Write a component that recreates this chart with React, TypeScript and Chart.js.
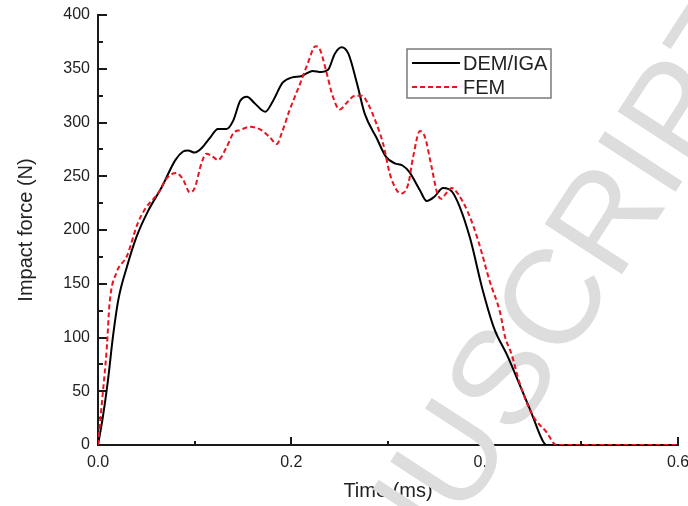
import React, { useEffect, useRef } from 'react';
import { Chart, registerables } from 'chart.js';

Chart.register(...registerables);

const demTime = [0, 0.005, 0.01, 0.0155, 0.021, 0.03, 0.04, 0.052, 0.066, 0.08, 0.088, 0.093, 0.1, 0.107, 0.116, 0.124, 0.133, 0.14, 0.147, 0.154, 0.162, 0.173, 0.181, 0.191, 0.201, 0.21, 0.222, 0.231, 0.238, 0.245, 0.252, 0.259, 0.268, 0.276, 0.288, 0.298, 0.307, 0.315, 0.322, 0.333, 0.34, 0.348, 0.357, 0.366, 0.374, 0.385, 0.398, 0.41, 0.423, 0.433, 0.447, 0.46, 0.464, 0.6];
const demForce = [0, 26, 58, 101, 135, 166, 194, 218, 240, 265, 273, 274, 272, 276, 286, 294, 294, 302, 320, 324, 318, 310, 320, 337, 342, 343, 348, 347, 349, 364, 370, 364, 336, 308, 286, 268, 262, 260, 254, 237, 227, 231, 239, 236, 222, 192, 144, 108, 84, 63, 33, 4, 0, 0];

const femTime = [0, 0.004, 0.009, 0.012, 0.019, 0.03, 0.041, 0.049, 0.062, 0.072, 0.081, 0.088, 0.095, 0.1, 0.107, 0.112, 0.119, 0.124, 0.133, 0.14, 0.147, 0.157, 0.169, 0.178, 0.185, 0.19, 0.198, 0.209, 0.217, 0.225, 0.229, 0.236, 0.243, 0.25, 0.257, 0.266, 0.273, 0.279, 0.288, 0.295, 0.302, 0.309, 0.314, 0.321, 0.326, 0.333, 0.338, 0.345, 0.351, 0.355, 0.36, 0.366, 0.372, 0.383, 0.393, 0.405, 0.416, 0.421, 0.428, 0.436, 0.45, 0.464, 0.474, 0.6];
const femForce = [0, 39, 89, 132, 160, 176, 206, 220, 234, 249, 253, 247, 235, 239, 262, 271, 268, 265, 277, 290, 293, 296, 293, 286, 280, 290, 311, 336, 355, 371, 369, 348, 324, 312, 318, 325, 325, 318, 299, 280, 252, 237, 234, 243, 268, 292, 287, 259, 234, 229, 234, 239, 234, 216, 191, 153, 123, 101, 84, 58, 27, 12, 0, 0];

const seriesLabels = ['DEM/IGA', 'FEM'];
const seriesColors = ['#000000', '#e8141e'];
const xTitle = 'Time (ms)';
const yTitle = 'Impact force (N)';
const watermarkText = 'ACCEPTED MANUSCRIPT';

const FONT = '"Liberation Sans", Arial, Helvetica, sans-serif';
const AXIS_COLOR = '#1a1a1a';
const TEXT_COLOR = '#222222';

const innerTicks = {
  id: 'innerTicks',
  beforeDatasetsDraw(chart: any) {
    const ctx = chart.ctx;
    const xs = chart.scales.x;
    const ys = chart.scales.y;
    const area = chart.chartArea;
    ctx.save();
    ctx.strokeStyle = AXIS_COLOR;
    ctx.lineWidth = 2;
    ctx.beginPath();
    xs.ticks.forEach((t: any) => {
      const px = Math.round(xs.getPixelForValue(t.value));
      const major = Math.round(t.value * 10) % 2 === 0;
      const len = major ? 8 : 4;
      ctx.moveTo(px, area.bottom);
      ctx.lineTo(px, area.bottom - len);
    });
    ys.ticks.forEach((t: any) => {
      const py = Math.round(ys.getPixelForValue(t.value));
      const major = Math.round(t.value) % 50 === 0;
      const len = major ? 9 : 5;
      ctx.moveTo(area.left, py);
      ctx.lineTo(area.left + len, py);
    });
    ctx.stroke();
    ctx.restore();
  },
};

const watermark = {
  id: 'watermark',
  beforeDatasetsDraw(chart: any) {
    const ctx = chart.ctx;
    ctx.save();
    ctx.font = `134px ${FONT}`;
    ctx.fillStyle = '#dddddd';
    ctx.textBaseline = 'middle';
    ctx.textAlign = 'left';
    const pre = ctx.measureText('ACCEPTED MANU').width;
    const sW = ctx.measureText('S').width;
    ctx.translate(508, 382);
    ctx.rotate((-57 * Math.PI) / 180);
    ctx.fillText(watermarkText, -(pre + sW / 2), 0);
    ctx.restore();
  },
};

const boxLegend = {
  id: 'boxLegend',
  afterDraw(chart: any) {
    const ctx = chart.ctx;
    const left = 407;
    const top = 49;
    const w = 144;
    const h = 49;
    ctx.save();
    ctx.strokeStyle = '#7a7a7a';
    ctx.lineWidth = 1.5;
    ctx.strokeRect(left, top, w, h);
    const rows = [63, 87];
    chart.data.datasets.forEach((ds: any, i: number) => {
      const y = rows[i];
      ctx.beginPath();
      ctx.strokeStyle = ds.borderColor;
      ctx.lineWidth = 2;
      ctx.setLineDash(ds.borderDash || []);
      ctx.moveTo(412, y);
      ctx.lineTo(460, y);
      ctx.stroke();
      ctx.setLineDash([]);
      ctx.fillStyle = TEXT_COLOR;
      ctx.font = `20px ${FONT}`;
      ctx.textBaseline = 'middle';
      ctx.textAlign = 'left';
      ctx.fillText(ds.label, 463, y + 1);
    });
    ctx.restore();
  },
};

export default function App() {
  const ref = useRef<HTMLCanvasElement>(null);
  useEffect(() => {
    document.body.style.margin = '0';
    const canvas = ref.current;
    if (!canvas) return;
    const chart = new Chart(canvas, {
      type: 'line',
      data: {
        datasets: [
          {
            label: seriesLabels[0],
            data: demTime.map((t, i) => ({ x: t, y: demForce[i] })),
            borderColor: seriesColors[0],
            borderWidth: 2,
            pointRadius: 0,
            cubicInterpolationMode: 'monotone',
            fill: false,
            order: 2,
          },
          {
            label: seriesLabels[1],
            data: femTime.map((t, i) => ({ x: t, y: femForce[i] })),
            borderColor: seriesColors[1],
            borderWidth: 2,
            borderDash: [5, 3],
            pointRadius: 0,
            cubicInterpolationMode: 'monotone',
            fill: false,
            order: 1,
          },
        ],
      },
      options: {
        responsive: false,
        animation: false,
        devicePixelRatio: 1,
        layout: { padding: { top: 15, right: 10, left: 0, bottom: 0 } },
        plugins: {
          legend: { display: false },
          tooltip: { enabled: false },
        },
        scales: {
          x: {
            type: 'linear',
            min: 0,
            max: 0.6,
            grid: { display: true, drawOnChartArea: false, drawTicks: false },
            border: { display: true, color: AXIS_COLOR, width: 2 },
            ticks: {
              stepSize: 0.1,
              padding: 8,
              maxRotation: 0,
              autoSkip: false,
              color: TEXT_COLOR,
              font: { family: FONT, size: 16 },
              callback: (v: any) => (Math.round(Number(v) * 10) % 2 === 0 ? Number(v).toFixed(1) : ''),
            },
            title: {
              display: true,
              text: xTitle,
              color: TEXT_COLOR,
              font: { family: FONT, size: 20 },
              padding: { top: 0, bottom: 3 },
            },
            afterFit: (s: any) => {
              s.height = 61;
              s.paddingLeft = 0;
              s.paddingRight = 0;
            },
          },
          y: {
            type: 'linear',
            min: 0,
            max: 400,
            grid: { display: true, drawOnChartArea: false, drawTicks: false },
            border: { display: true, color: AXIS_COLOR, width: 2 },
            ticks: {
              stepSize: 25,
              padding: 8,
              autoSkip: false,
              color: TEXT_COLOR,
              font: { family: FONT, size: 16 },
              callback: (v: any) => (Math.round(Number(v)) % 50 === 0 ? String(v) : ''),
            },
            title: {
              display: true,
              text: yTitle,
              color: TEXT_COLOR,
              font: { family: FONT, size: 20 },
              padding: { top: 14, bottom: 0 },
            },
            afterFit: (s: any) => {
              s.width = 98;
              s.paddingTop = 0;
              s.paddingBottom = 0;
            },
          },
        },
      },
      plugins: [innerTicks, watermark, boxLegend],
    });
    return () => chart.destroy();
  }, []);
  return (
    <div style={{ width: 688, height: 506 }}>
      <canvas ref={ref} width={688} height={506} style={{ display: 'block' }} />
    </div>
  );
}
